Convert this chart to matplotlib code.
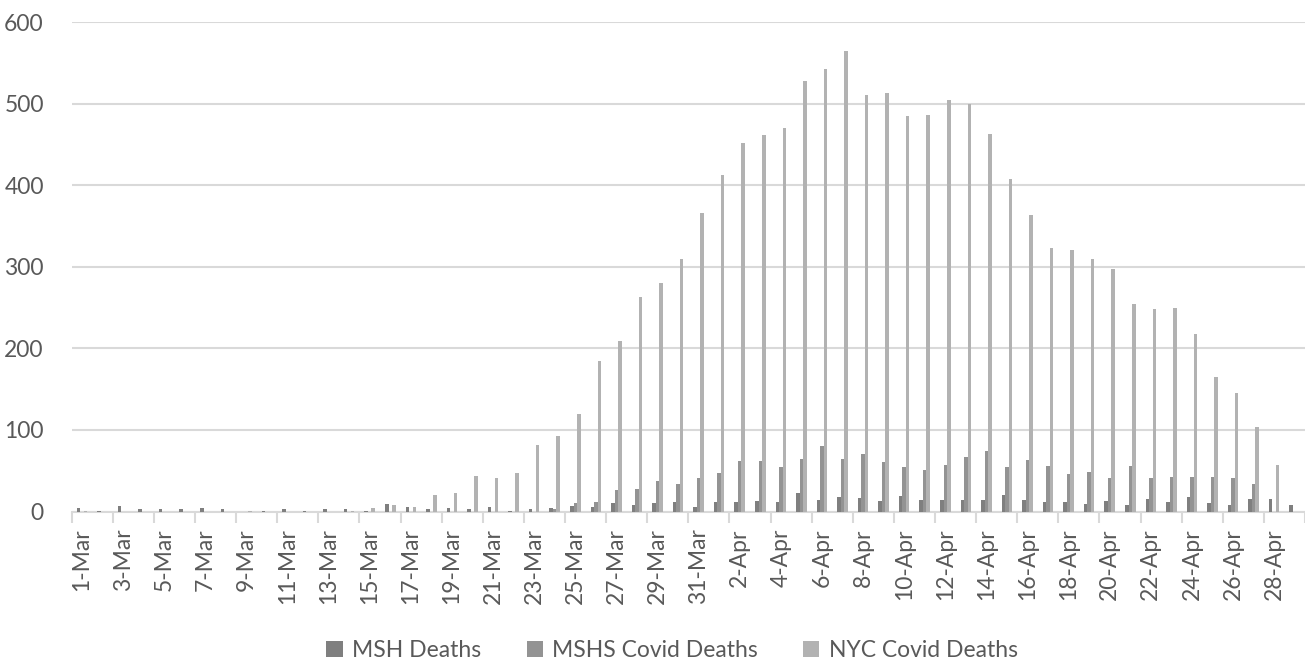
import matplotlib.pyplot as plt
import numpy as np
import pandas as pd

# dates 1-Mar .. 29-Apr
dates = pd.date_range("2020-03-01", "2020-04-29")
labels = [f"{d.day}-{d.strftime('%b')}" for d in dates]

msh_deaths = [
    4, 1, 7, 2.5, 2.5, 2.5, 4, 3, 0, 1,
    3, 1, 2.5, 3, 1, 9, 5, 2.5, 4.5, 3,
    6, 1, 2.5, 4, 6.5, 5.5, 10, 8.5, 10, 12,
    5, 11.5, 11.5, 12.5, 11.5, 22.5, 14, 17.5, 16, 13,
    19.5, 14, 14, 14, 14.5, 20, 14.5, 12, 12, 9,
    13.5, 8.5, 15.5, 12, 17.5, 10, 8.5, 15.5, 15, 8.5,
]
mshs_deaths = [
    0, 0, 0, 0, 0, 0, 0, 0, 0, 0,
    0, 0, 0, 0, 0, 0, 0, 0, 0, 0,
    0, 0, 0, 3.5, 11, 12, 26, 28, 37, 34,
    41.5, 47.5, 62.5, 61.5, 54.5, 64.5, 80, 64, 71, 60.5,
    54, 51, 56.5, 66.5, 74, 54.5, 63, 56, 46, 49,
    41.5, 56, 40.5, 42.5, 42.5, 42.5, 40.5, 34, 0, 0,
]
nyc_deaths = [
    1, 0, 0, 0, 0, 0, 0, 0, 1, 0,
    0, 0, 0, 1, 4.5, 8, 6, 20, 23, 44,
    41, 47.5, 82, 92, 120, 185, 209, 263, 280, 310,
    366, 413, 452, 461, 470, 528, 543, 564, 510, 513,
    485, 486, 505, 500, 463, 407, 363, 323, 321, 309,
    297, 254, 248, 249, 217, 165, 145, 103, 57, 0,
]

series = [
    ("MSH Deaths", msh_deaths, "#7f7f7f"),
    ("MSHS Covid Deaths", mshs_deaths, "#939393"),
    ("NYC Covid Deaths", nyc_deaths, "#b2b2b2"),
]

plt.rcParams["font.family"] = ["Lato", "DejaVu Sans"]

fig = plt.figure(figsize=(13.05, 6.59), dpi=100)
ax = fig.add_axes([0.0549, 0.2238, 0.9451, 0.7428])

x = np.arange(len(labels))
w = 0.17
for k, (name, vals, col) in enumerate(series):
    ax.bar(x + (k - 1) * w, vals, width=w, color=col, label=name, zorder=3)

ax.set_xlim(-0.5, len(labels) - 0.5)
ax.set_ylim(0, 600)
ax.set_yticks(range(0, 601, 100))
ax.yaxis.grid(True, color="#d9d9d9", linewidth=1.5, zorder=0)
ax.tick_params(axis="y", length=0, pad=20, labelsize=16.5, labelcolor="#595959")

ax.set_xticks(x[::2])
ax.set_xticklabels(labels[::2], rotation=90, fontsize=16.5, color="#595959")
ax.set_xticks(np.arange(-0.5, len(labels), 2), minor=True)
ax.tick_params(axis="x", which="major", length=0, pad=12)
ax.tick_params(axis="x", which="minor", length=8, width=1.5, color="#d9d9d9")

for s in ["top", "right", "left"]:
    ax.spines[s].set_visible(False)
ax.spines["bottom"].set_color("#d9d9d9")
ax.spines["bottom"].set_linewidth(1.5)

fig.legend(loc="lower center", bbox_to_anchor=(0.515, -0.035), ncol=3, frameon=False,
           fontsize=16.5, labelcolor="#595959", handlelength=0.7, handleheight=0.7,
           columnspacing=2.0, handletextpad=0.4)

fig.savefig("out.png", dpi=100)
